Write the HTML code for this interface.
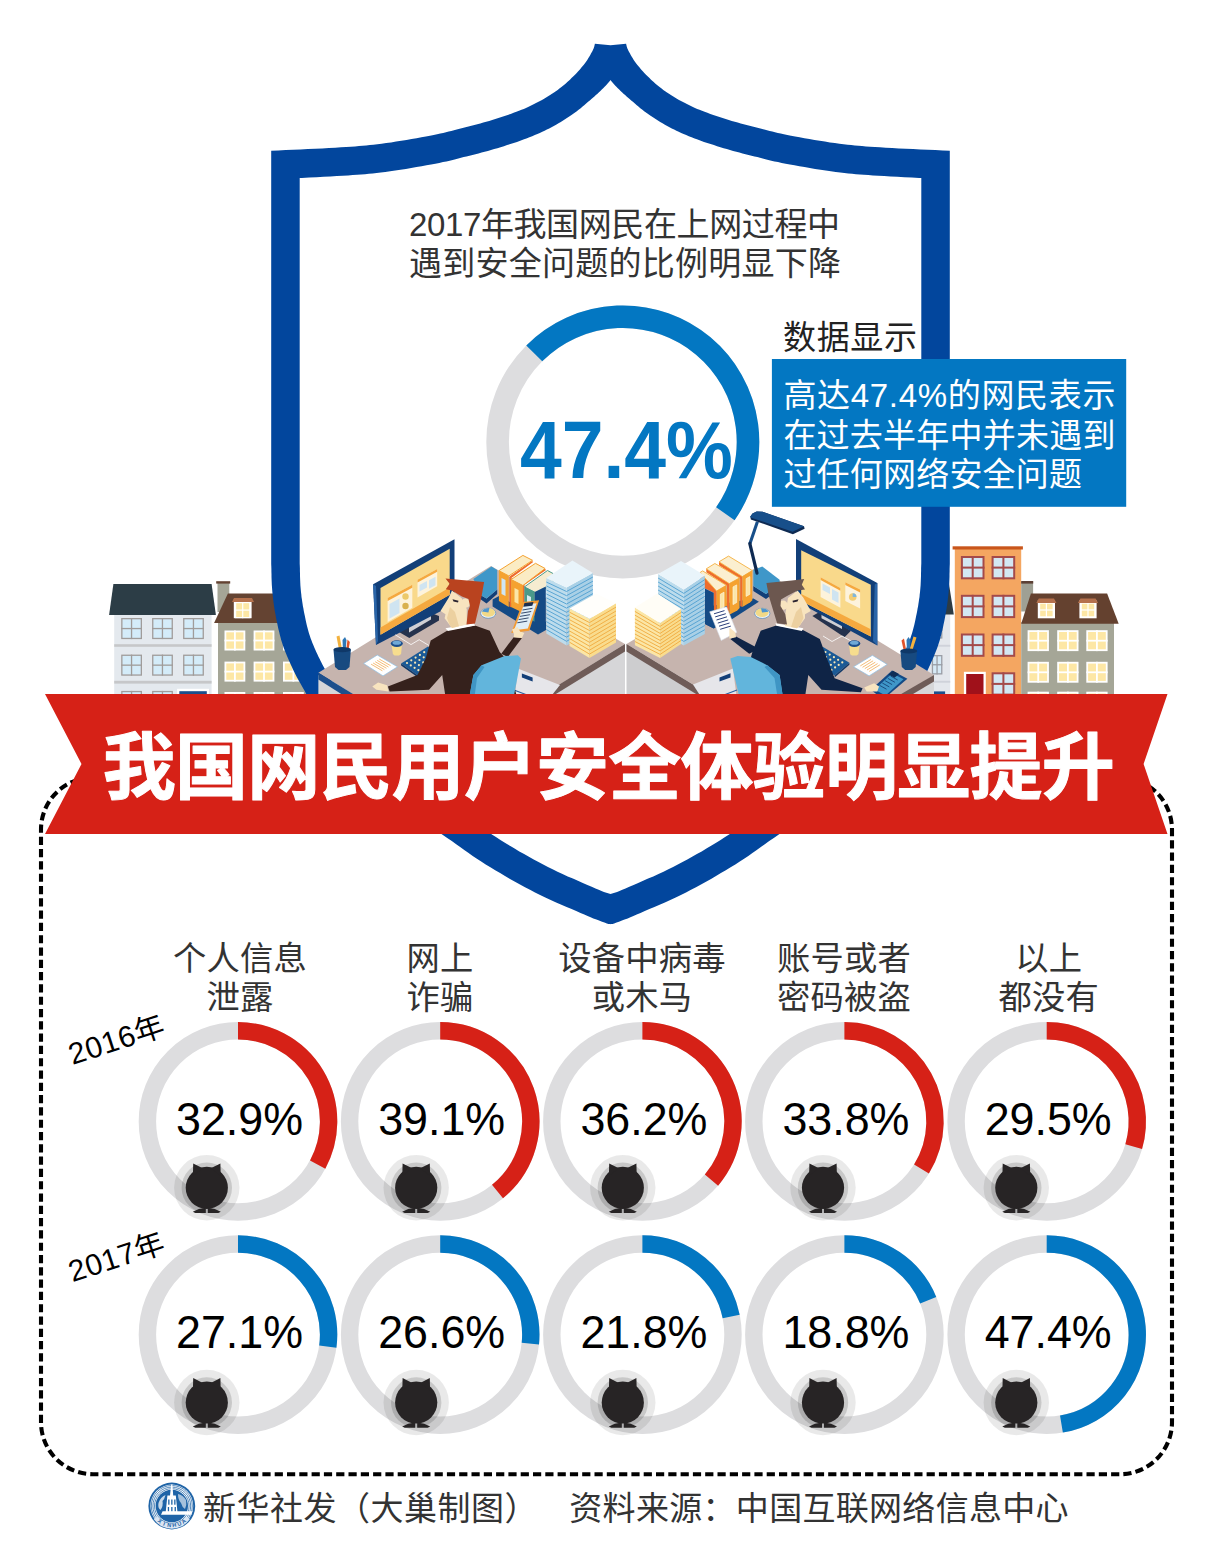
<!DOCTYPE html><html><head><meta charset="utf-8"><title>infographic</title><style>html,body{margin:0;padding:0;background:#fff;font-family:"Liberation Sans",sans-serif}body{width:1217px;height:1541px;overflow:hidden;position:relative}svg{display:block}svg text{font-family:"Liberation Sans","Noto Sans CJK SC",sans-serif}.t{position:absolute;left:0;top:0;width:1217px;height:1541px;overflow:hidden;color:transparent;font-size:12px;line-height:14px;pointer-events:none;user-select:none}</style></head><body><svg width="1217" height="1541" viewBox="0 0 1217 1541"><g id="bld"><rect x="114.2" y="612.0" width="97.4" height="90.0" fill="#e4e9ee"/><polygon points="109.1,615.1 113.4,584.1 211.6,584.1 215.9,615.1" fill="#2c3d46"/><rect x="114.2" y="644.2" width="97.4" height="2.6" fill="#c6c7c9"/><rect x="114.2" y="680.8" width="97.4" height="2.8" fill="#c6c7c9"/><rect x="121.2" y="618.0" width="20.8" height="21.1" fill="#a09c9a"/><rect x="122.5" y="619.3" width="18.2" height="18.5" fill="#d4ecf9"/><rect x="130.9" y="618.0" width="1.3" height="21.1" fill="#a09c9a"/><rect x="121.2" y="627.9" width="20.8" height="1.3" fill="#a09c9a"/><rect x="152.1" y="618.0" width="20.8" height="21.1" fill="#a09c9a"/><rect x="153.4" y="619.3" width="18.2" height="18.5" fill="#d4ecf9"/><rect x="161.8" y="618.0" width="1.3" height="21.1" fill="#a09c9a"/><rect x="152.1" y="627.9" width="20.8" height="1.3" fill="#a09c9a"/><rect x="183.1" y="618.0" width="20.8" height="21.1" fill="#a09c9a"/><rect x="184.4" y="619.3" width="18.2" height="18.5" fill="#d4ecf9"/><rect x="192.8" y="618.0" width="1.3" height="21.1" fill="#a09c9a"/><rect x="183.1" y="627.9" width="20.8" height="1.3" fill="#a09c9a"/><rect x="121.2" y="654.6" width="20.8" height="21.1" fill="#a09c9a"/><rect x="122.5" y="655.9" width="18.2" height="18.5" fill="#d4ecf9"/><rect x="130.9" y="654.6" width="1.3" height="21.1" fill="#a09c9a"/><rect x="121.2" y="664.5" width="20.8" height="1.3" fill="#a09c9a"/><rect x="152.1" y="654.6" width="20.8" height="21.1" fill="#a09c9a"/><rect x="153.4" y="655.9" width="18.2" height="18.5" fill="#d4ecf9"/><rect x="161.8" y="654.6" width="1.3" height="21.1" fill="#a09c9a"/><rect x="152.1" y="664.5" width="20.8" height="1.3" fill="#a09c9a"/><rect x="183.1" y="654.6" width="20.8" height="21.1" fill="#a09c9a"/><rect x="184.4" y="655.9" width="18.2" height="18.5" fill="#d4ecf9"/><rect x="192.8" y="654.6" width="1.3" height="21.1" fill="#a09c9a"/><rect x="183.1" y="664.5" width="20.8" height="1.3" fill="#a09c9a"/><rect x="121.2" y="690.9" width="20.8" height="21.1" fill="#a09c9a"/><rect x="122.5" y="692.2" width="18.2" height="18.5" fill="#d4ecf9"/><rect x="130.9" y="690.9" width="1.3" height="21.1" fill="#a09c9a"/><rect x="121.2" y="700.8" width="20.8" height="1.3" fill="#a09c9a"/><rect x="152.1" y="690.9" width="20.8" height="21.1" fill="#a09c9a"/><rect x="153.4" y="692.2" width="18.2" height="18.5" fill="#d4ecf9"/><rect x="161.8" y="690.9" width="1.3" height="21.1" fill="#a09c9a"/><rect x="152.1" y="700.8" width="20.8" height="1.3" fill="#a09c9a"/><rect x="183.1" y="690.9" width="20.8" height="21.1" fill="#a09c9a"/><rect x="184.4" y="692.2" width="18.2" height="18.5" fill="#d4ecf9"/><rect x="192.8" y="690.9" width="1.3" height="21.1" fill="#a09c9a"/><rect x="183.1" y="700.8" width="20.8" height="1.3" fill="#a09c9a"/><rect x="177.1" y="688.8" width="31.9" height="10.0" fill="#fff"/><rect x="179.3" y="691.2" width="27.5" height="8.0" fill="#1b4f8c"/><rect x="217.5" y="582.0" width="11.8" height="30.0" fill="#a5a697"/><rect x="216.2" y="581.2" width="14.0" height="2.4" fill="#644332"/><rect x="218.0" y="622.0" width="90.0" height="80.0" fill="#a5a697"/><polygon points="214.1,623.1 227.9,593.6 300.0,593.6 300.0,623.1" fill="#644332"/><rect x="233.8" y="599.5" width="17.8" height="18.7" fill="#fff"/><rect x="235.0" y="602.0" width="15.4" height="16.2" fill="#fff"/><rect x="236.2" y="603.2" width="13.0" height="13.8" fill="#fde7a5"/><rect x="242.1" y="602.0" width="1.2" height="16.2" fill="#fff"/><rect x="235.0" y="609.5" width="15.4" height="1.2" fill="#fff"/><polygon points="232.0,602.0 234.0,598.0 252.0,598.0 254.0,602.0" fill="#b5714d"/><rect x="224.5" y="630.5" width="20.8" height="20.0" fill="#fff"/><rect x="226.3" y="632.3" width="17.2" height="16.4" fill="#fde7a5"/><rect x="234.0" y="630.5" width="1.8" height="20.0" fill="#fff"/><rect x="224.5" y="639.6" width="20.8" height="1.8" fill="#fff"/><rect x="253.6" y="630.5" width="20.8" height="20.0" fill="#fff"/><rect x="255.4" y="632.3" width="17.2" height="16.4" fill="#fde7a5"/><rect x="263.1" y="630.5" width="1.8" height="20.0" fill="#fff"/><rect x="253.6" y="639.6" width="20.8" height="1.8" fill="#fff"/><rect x="283.0" y="630.5" width="20.8" height="20.0" fill="#fff"/><rect x="284.8" y="632.3" width="17.2" height="16.4" fill="#fde7a5"/><rect x="292.5" y="630.5" width="1.8" height="20.0" fill="#fff"/><rect x="283.0" y="639.6" width="20.8" height="1.8" fill="#fff"/><rect x="224.5" y="661.6" width="20.8" height="20.0" fill="#fff"/><rect x="226.3" y="663.4" width="17.2" height="16.4" fill="#fde7a5"/><rect x="234.0" y="661.6" width="1.8" height="20.0" fill="#fff"/><rect x="224.5" y="670.7" width="20.8" height="1.8" fill="#fff"/><rect x="253.6" y="661.6" width="20.8" height="20.0" fill="#fff"/><rect x="255.4" y="663.4" width="17.2" height="16.4" fill="#fde7a5"/><rect x="263.1" y="661.6" width="1.8" height="20.0" fill="#fff"/><rect x="253.6" y="670.7" width="20.8" height="1.8" fill="#fff"/><rect x="283.0" y="661.6" width="20.8" height="20.0" fill="#fff"/><rect x="284.8" y="663.4" width="17.2" height="16.4" fill="#fde7a5"/><rect x="292.5" y="661.6" width="1.8" height="20.0" fill="#fff"/><rect x="283.0" y="670.7" width="20.8" height="1.8" fill="#fff"/><rect x="224.5" y="692.0" width="20.8" height="20.0" fill="#fff"/><rect x="226.3" y="693.8" width="17.2" height="16.4" fill="#fde7a5"/><rect x="234.0" y="692.0" width="1.8" height="20.0" fill="#fff"/><rect x="224.5" y="701.1" width="20.8" height="1.8" fill="#fff"/><rect x="253.6" y="692.0" width="20.8" height="20.0" fill="#fff"/><rect x="255.4" y="693.8" width="17.2" height="16.4" fill="#fde7a5"/><rect x="263.1" y="692.0" width="1.8" height="20.0" fill="#fff"/><rect x="253.6" y="701.1" width="20.8" height="1.8" fill="#fff"/><rect x="283.0" y="692.0" width="20.8" height="20.0" fill="#fff"/><rect x="284.8" y="693.8" width="17.2" height="16.4" fill="#fde7a5"/><rect x="292.5" y="692.0" width="1.8" height="20.0" fill="#fff"/><rect x="283.0" y="701.1" width="20.8" height="1.8" fill="#fff"/><rect x="920.0" y="612.0" width="30.2" height="90.0" fill="#e4e7ec"/><polygon points="920.0,614.5 920.0,584.3 949.0,584.3 953.8,614.5" fill="#2d3b43"/><rect x="920.0" y="644.8" width="30.2" height="1.9" fill="#cfd2da"/><rect x="920.0" y="680.8" width="30.2" height="1.9" fill="#cfd2da"/><rect x="931.8" y="655.0" width="10.6" height="19.5" fill="#9a9ea6"/><rect x="933.1" y="656.3" width="8.0" height="16.9" fill="#d6e9f5"/><rect x="936.4" y="655.0" width="1.3" height="19.5" fill="#9a9ea6"/><rect x="931.8" y="664.1" width="10.6" height="1.3" fill="#9a9ea6"/><rect x="931.8" y="622.0" width="10.6" height="16.6" fill="#9a9ea6"/><rect x="933.1" y="623.3" width="8.0" height="14.0" fill="#d6e9f5"/><rect x="936.4" y="622.0" width="1.3" height="16.6" fill="#9a9ea6"/><rect x="931.8" y="629.6" width="10.6" height="1.3" fill="#9a9ea6"/><rect x="930.9" y="691.4" width="14.2" height="5.0" fill="#1b4f8c"/><rect x="954.8" y="548.0" width="66.4" height="150.0" fill="#f4a661"/><rect x="952.6" y="546.3" width="70.3" height="3.2" fill="#c9561c"/><rect x="960.9" y="556.0" width="23.6" height="23.3" fill="#a44a4a"/><rect x="962.9" y="558.0" width="19.6" height="19.3" fill="#d3e7f3"/><rect x="971.7" y="556.0" width="2.0" height="23.3" fill="#a44a4a"/><rect x="960.9" y="566.6" width="23.6" height="2.0" fill="#a44a4a"/><rect x="991.6" y="556.0" width="23.6" height="23.3" fill="#a44a4a"/><rect x="993.6" y="558.0" width="19.6" height="19.3" fill="#d3e7f3"/><rect x="1002.4" y="556.0" width="2.0" height="23.3" fill="#a44a4a"/><rect x="991.6" y="566.6" width="23.6" height="2.0" fill="#a44a4a"/><rect x="960.9" y="594.8" width="23.6" height="23.3" fill="#a44a4a"/><rect x="962.9" y="596.8" width="19.6" height="19.3" fill="#d3e7f3"/><rect x="971.7" y="594.8" width="2.0" height="23.3" fill="#a44a4a"/><rect x="960.9" y="605.4" width="23.6" height="2.0" fill="#a44a4a"/><rect x="991.6" y="594.8" width="23.6" height="23.3" fill="#a44a4a"/><rect x="993.6" y="596.8" width="19.6" height="19.3" fill="#d3e7f3"/><rect x="1002.4" y="594.8" width="2.0" height="23.3" fill="#a44a4a"/><rect x="991.6" y="605.4" width="23.6" height="2.0" fill="#a44a4a"/><rect x="960.9" y="633.5" width="23.6" height="23.3" fill="#a44a4a"/><rect x="962.9" y="635.5" width="19.6" height="19.3" fill="#d3e7f3"/><rect x="971.7" y="633.5" width="2.0" height="23.3" fill="#a44a4a"/><rect x="960.9" y="644.1" width="23.6" height="2.0" fill="#a44a4a"/><rect x="991.6" y="633.5" width="23.6" height="23.3" fill="#a44a4a"/><rect x="993.6" y="635.5" width="19.6" height="19.3" fill="#d3e7f3"/><rect x="1002.4" y="633.5" width="2.0" height="23.3" fill="#a44a4a"/><rect x="991.6" y="644.1" width="23.6" height="2.0" fill="#a44a4a"/><rect x="963.9" y="671.8" width="21.9" height="25.0" fill="#fff"/><rect x="966.2" y="674.0" width="17.3" height="23.0" fill="#a0111a"/><rect x="991.6" y="672.3" width="23.6" height="23.3" fill="#a44a4a"/><rect x="993.6" y="674.3" width="19.6" height="19.3" fill="#d3e7f3"/><rect x="1002.4" y="672.3" width="2.0" height="23.3" fill="#a44a4a"/><rect x="991.6" y="682.9" width="23.6" height="2.0" fill="#a44a4a"/><rect x="1021.2" y="581.5" width="11.9" height="30.0" fill="#9fa094"/><rect x="1021.2" y="581.0" width="12.0" height="2.6" fill="#5c4034"/><rect x="1021.2" y="622.0" width="92.8" height="78.0" fill="#a5a697"/><polygon points="1021.2,623.8 1030.9,593.4 1107.1,593.4 1118.7,623.8" fill="#64412f"/><rect x="1037.8" y="600.3" width="17.2" height="18.0" fill="#fff"/><rect x="1039.0" y="602.5" width="14.8" height="15.0" fill="#fff"/><rect x="1040.2" y="603.7" width="12.4" height="12.6" fill="#fde7a5"/><rect x="1045.8" y="602.5" width="1.2" height="15.0" fill="#fff"/><rect x="1039.0" y="609.4" width="14.8" height="1.2" fill="#fff"/><polygon points="1036.3,603.0 1038.8,598.5 1054.0,598.5 1056.5,603.0" fill="#b5714d"/><rect x="1079.4" y="600.3" width="17.2" height="18.0" fill="#fff"/><rect x="1080.6" y="602.5" width="14.8" height="15.0" fill="#fff"/><rect x="1081.8" y="603.7" width="12.4" height="12.6" fill="#fde7a5"/><rect x="1087.4" y="602.5" width="1.2" height="15.0" fill="#fff"/><rect x="1080.6" y="609.4" width="14.8" height="1.2" fill="#fff"/><polygon points="1077.9,603.0 1080.4,598.5 1095.6,598.5 1098.1,603.0" fill="#b5714d"/><rect x="1027.6" y="630.2" width="21.3" height="20.9" fill="#fff"/><rect x="1029.4" y="632.0" width="17.7" height="17.3" fill="#fde7a5"/><rect x="1037.3" y="630.2" width="1.8" height="20.9" fill="#fff"/><rect x="1027.6" y="639.8" width="21.3" height="1.8" fill="#fff"/><rect x="1057.2" y="630.2" width="21.3" height="20.9" fill="#fff"/><rect x="1059.0" y="632.0" width="17.7" height="17.3" fill="#fde7a5"/><rect x="1067.0" y="630.2" width="1.8" height="20.9" fill="#fff"/><rect x="1057.2" y="639.8" width="21.3" height="1.8" fill="#fff"/><rect x="1086.3" y="630.2" width="21.3" height="20.9" fill="#fff"/><rect x="1088.1" y="632.0" width="17.7" height="17.3" fill="#fde7a5"/><rect x="1096.0" y="630.2" width="1.8" height="20.9" fill="#fff"/><rect x="1086.3" y="639.8" width="21.3" height="1.8" fill="#fff"/><rect x="1027.6" y="661.8" width="21.3" height="20.9" fill="#fff"/><rect x="1029.4" y="663.6" width="17.7" height="17.3" fill="#fde7a5"/><rect x="1037.3" y="661.8" width="1.8" height="20.9" fill="#fff"/><rect x="1027.6" y="671.4" width="21.3" height="1.8" fill="#fff"/><rect x="1057.2" y="661.8" width="21.3" height="20.9" fill="#fff"/><rect x="1059.0" y="663.6" width="17.7" height="17.3" fill="#fde7a5"/><rect x="1067.0" y="661.8" width="1.8" height="20.9" fill="#fff"/><rect x="1057.2" y="671.4" width="21.3" height="1.8" fill="#fff"/><rect x="1086.3" y="661.8" width="21.3" height="20.9" fill="#fff"/><rect x="1088.1" y="663.6" width="17.7" height="17.3" fill="#fde7a5"/><rect x="1096.0" y="661.8" width="1.8" height="20.9" fill="#fff"/><rect x="1086.3" y="671.4" width="21.3" height="1.8" fill="#fff"/><rect x="1027.6" y="691.7" width="21.3" height="20.9" fill="#fff"/><rect x="1029.4" y="693.5" width="17.7" height="17.3" fill="#fde7a5"/><rect x="1037.3" y="691.7" width="1.8" height="20.9" fill="#fff"/><rect x="1027.6" y="701.3" width="21.3" height="1.8" fill="#fff"/><rect x="1057.2" y="691.7" width="21.3" height="20.9" fill="#fff"/><rect x="1059.0" y="693.5" width="17.7" height="17.3" fill="#fde7a5"/><rect x="1067.0" y="691.7" width="1.8" height="20.9" fill="#fff"/><rect x="1057.2" y="701.3" width="21.3" height="1.8" fill="#fff"/><rect x="1086.3" y="691.7" width="21.3" height="20.9" fill="#fff"/><rect x="1088.1" y="693.5" width="17.7" height="17.3" fill="#fde7a5"/><rect x="1096.0" y="691.7" width="1.8" height="20.9" fill="#fff"/><rect x="1086.3" y="701.3" width="21.3" height="1.8" fill="#fff"/></g><path d="M610.5 45.3L594.9 43.7L594.8 44.3L594.6 45.0L594.5 45.5L594.4 46.1L594.2 46.7L594.0 47.3L593.8 48.0L593.5 48.7L593.1 49.5L592.7 50.4L592.2 51.4L591.6 52.5L591.0 53.6L590.4 54.8L589.7 56.1L588.9 57.3L588.1 58.6L587.3 59.9L586.4 61.2L585.5 62.5L584.6 63.8L583.6 65.0L582.5 66.3L581.4 67.6L580.3 68.9L579.2 70.2L578.0 71.6L576.7 72.9L575.5 74.2L574.2 75.5L572.9 76.8L571.5 78.1L570.2 79.4L568.8 80.8L567.3 82.1L565.8 83.4L564.3 84.7L562.7 86.0L561.1 87.3L559.4 88.6L557.7 89.9L555.8 91.2L554.0 92.5L552.0 93.7L550.1 95.0L548.1 96.3L546.1 97.5L544.1 98.7L542.0 99.9L540.0 101.0L538.0 102.1L536.0 103.1L534.1 104.1L532.1 105.1L530.1 106.0L528.1 107.0L526.0 107.9L523.8 108.9L521.5 109.8L519.0 110.8L516.4 111.8L513.6 112.8L510.7 113.9L507.7 114.9L504.6 116.0L501.5 117.0L498.4 118.0L495.3 119.0L492.2 120.0L489.2 120.9L486.2 121.8L483.3 122.6L480.3 123.5L477.3 124.3L474.4 125.1L471.4 125.8L468.5 126.6L465.5 127.3L462.6 128.1L459.6 128.8L456.7 129.5L454.0 130.2L451.3 130.9L448.7 131.6L446.0 132.2L443.2 132.9L440.3 133.6L437.1 134.3L433.7 135.0L430.0 135.7L425.9 136.5L421.4 137.3L416.6 138.2L411.6 139.0L406.5 139.9L401.3 140.8L396.1 141.6L391.1 142.4L386.2 143.1L381.6 143.7L377.4 144.2L373.4 144.7L369.8 145.1L366.2 145.5L362.6 145.8L359.0 146.1L355.1 146.4L350.9 146.7L346.2 147.0L341.0 147.3L335.2 147.7L328.9 148.0L322.2 148.4L315.2 148.7L307.9 149.1L300.6 149.4L293.1 149.7L285.7 150.1L278.3 150.4L271.2 150.8L271.2 161.7L271.2 174.3L271.2 188.3L271.2 203.4L271.2 219.2L271.2 235.5L271.2 252.1L271.2 268.5L271.2 284.6L271.2 300.0L271.2 315.2L271.2 330.9L271.2 346.8L271.2 362.8L271.2 378.7L271.2 394.3L271.2 409.4L271.2 423.8L271.2 437.4L271.2 450.0L271.2 461.7L271.2 472.9L271.2 483.4L271.2 493.4L271.2 502.7L271.2 511.5L271.2 519.6L271.2 527.0L271.2 533.8L271.2 540.0L271.2 545.2L271.2 549.3L271.2 552.6L271.2 555.1L271.2 557.1L271.2 558.8L271.2 560.4L271.2 562.1L271.2 564.0L271.3 566.3L271.4 568.9L271.4 571.6L271.5 574.2L271.5 576.8L271.6 579.4L271.7 582.1L271.8 584.7L272.0 587.3L272.2 590.0L272.4 592.6L272.7 595.2L273.0 597.9L273.3 600.5L273.6 603.1L274.0 605.8L274.4 608.4L274.8 611.0L275.3 613.6L275.8 616.3L276.3 618.9L276.8 621.5L277.4 624.2L277.9 626.8L278.5 629.4L279.2 632.0L279.8 634.7L280.5 637.3L281.2 639.9L282.0 642.6L282.9 645.2L283.8 647.9L284.8 650.5L285.9 653.2L287.0 655.9L288.1 658.6L289.3 661.3L290.5 663.9L291.7 666.5L292.8 669.1L294.0 671.5L295.1 673.7L296.1 675.7L297.0 677.4L297.9 679.1L298.8 680.8L299.9 682.6L301.0 684.6L302.4 687.0L304.0 689.8L305.9 693.2L308.0 697.2L310.3 701.7L312.8 706.6L315.4 711.8L318.2 717.3L321.2 723.0L324.3 728.6L327.7 734.3L331.2 739.8L335.0 745.0L339.0 750.1L343.2 755.3L347.7 760.5L352.3 765.6L357.1 770.8L362.1 775.8L367.2 780.8L372.4 785.7L377.7 790.4L383.0 795.0L388.5 799.4L394.4 803.7L400.4 807.9L406.6 812.0L412.9 816.0L419.1 819.9L425.2 823.7L431.2 827.4L436.9 831.0L442.2 834.5L447.2 837.9L451.8 841.1L456.2 844.2L460.5 847.2L464.6 850.2L468.6 853.0L472.7 855.9L476.9 858.7L481.2 861.5L485.7 864.4L490.4 867.3L495.2 870.2L500.1 873.1L505.0 876.0L510.0 878.9L515.0 881.7L520.0 884.5L525.0 887.2L530.0 889.8L535.0 892.4L540.1 894.9L545.3 897.4L550.7 899.9L556.1 902.4L561.4 904.7L566.6 907.0L571.6 909.1L576.2 911.1L580.5 913.0L584.3 914.6L587.6 916.0L590.6 917.3L593.3 918.4L595.7 919.3L597.8 920.1L599.7 920.8L601.4 921.4L602.9 922.0L604.4 922.5L605.7 923.0L606.8 923.4L607.7 923.7L608.3 923.9L608.8 924.0L609.1 924.1L609.3 924.1L609.5 924.1L609.8 924.1L610.1 924.1L610.5 924.2L610.5 924.2L610.9 924.1L611.2 924.1L611.5 924.1L611.7 924.1L611.9 924.1L612.2 924.0L612.7 923.9L613.3 923.7L614.2 923.4L615.3 923.0L616.6 922.5L618.1 922.0L619.6 921.4L621.3 920.8L623.2 920.1L625.3 919.3L627.7 918.4L630.4 917.3L633.4 916.0L636.7 914.6L640.5 913.0L644.8 911.1L649.4 909.1L654.4 907.0L659.6 904.7L664.9 902.4L670.3 899.9L675.7 897.4L680.9 894.9L686.0 892.4L691.0 889.8L696.0 887.2L701.0 884.5L706.0 881.7L711.0 878.9L716.0 876.0L720.9 873.1L725.8 870.2L730.6 867.3L735.3 864.4L739.8 861.5L744.1 858.7L748.3 855.9L752.4 853.0L756.4 850.2L760.5 847.2L764.8 844.2L769.2 841.1L773.8 837.9L778.8 834.5L784.1 831.0L789.8 827.4L795.8 823.7L801.9 819.9L808.1 816.0L814.4 812.0L820.6 807.9L826.6 803.7L832.5 799.4L838.0 795.0L843.3 790.4L848.6 785.7L853.8 780.8L858.9 775.8L863.9 770.8L868.7 765.6L873.3 760.5L877.8 755.3L882.0 750.1L886.0 745.0L889.8 739.8L893.3 734.3L896.7 728.6L899.8 723.0L902.8 717.3L905.6 711.8L908.2 706.6L910.7 701.7L913.0 697.2L915.1 693.2L917.0 689.8L918.6 687.0L920.0 684.6L921.1 682.6L922.2 680.8L923.1 679.1L924.0 677.4L924.9 675.7L925.9 673.7L927.0 671.5L928.2 669.1L929.3 666.5L930.5 663.9L931.7 661.3L932.9 658.6L934.0 655.9L935.1 653.2L936.2 650.5L937.2 647.9L938.1 645.2L939.0 642.6L939.8 639.9L940.5 637.3L941.2 634.7L941.8 632.0L942.5 629.4L943.1 626.8L943.6 624.2L944.2 621.5L944.7 618.9L945.2 616.3L945.7 613.6L946.2 611.0L946.6 608.4L947.0 605.8L947.4 603.1L947.7 600.5L948.0 597.9L948.3 595.2L948.6 592.6L948.8 590.0L949.0 587.3L949.2 584.7L949.3 582.1L949.4 579.4L949.5 576.8L949.5 574.2L949.6 571.6L949.6 568.9L949.7 566.3L949.8 564.0L949.8 562.1L949.8 560.4L949.8 558.8L949.8 557.1L949.8 555.1L949.8 552.6L949.8 549.3L949.8 545.2L949.8 540.0L949.8 533.8L949.8 527.0L949.8 519.6L949.8 511.5L949.8 502.7L949.8 493.4L949.8 483.4L949.8 472.9L949.8 461.7L949.8 450.0L949.8 437.4L949.8 423.8L949.8 409.4L949.8 394.3L949.8 378.7L949.8 362.8L949.8 346.8L949.8 330.9L949.8 315.2L949.8 300.0L949.8 284.6L949.8 268.5L949.8 252.1L949.8 235.5L949.8 219.2L949.8 203.4L949.8 188.3L949.8 174.3L949.8 161.7L949.8 150.8L942.7 150.4L935.3 150.1L927.9 149.7L920.4 149.4L913.0 149.1L905.8 148.7L898.8 148.4L892.1 148.0L885.8 147.7L880.0 147.3L874.8 147.0L870.1 146.7L865.9 146.4L862.0 146.1L858.4 145.8L854.8 145.5L851.2 145.1L847.6 144.7L843.6 144.2L839.4 143.7L834.8 143.1L829.9 142.4L824.9 141.6L819.7 140.8L814.5 139.9L809.4 139.0L804.4 138.2L799.6 137.3L795.1 136.5L791.0 135.7L787.3 135.0L783.9 134.3L780.7 133.6L777.8 132.9L775.0 132.2L772.3 131.6L769.7 130.9L767.0 130.2L764.3 129.5L761.4 128.8L758.4 128.1L755.5 127.3L752.5 126.6L749.6 125.8L746.6 125.1L743.7 124.3L740.7 123.5L737.7 122.6L734.8 121.8L731.8 120.9L728.8 120.0L725.7 119.0L722.6 118.0L719.5 117.0L716.4 116.0L713.3 114.9L710.3 113.9L707.4 112.8L704.6 111.8L702.0 110.8L699.5 109.8L697.2 108.9L695.0 107.9L692.9 107.0L690.9 106.0L688.9 105.1L686.9 104.1L685.0 103.1L683.0 102.1L681.0 101.0L679.0 99.9L676.9 98.7L674.9 97.5L672.9 96.3L670.9 95.0L669.0 93.7L667.0 92.5L665.2 91.2L663.3 89.9L661.6 88.6L659.9 87.3L658.3 86.0L656.7 84.7L655.2 83.4L653.7 82.1L652.2 80.8L650.8 79.4L649.5 78.1L648.1 76.8L646.8 75.5L645.5 74.2L644.3 72.9L643.0 71.6L641.8 70.2L640.7 68.9L639.6 67.6L638.5 66.3L637.4 65.0L636.4 63.8L635.5 62.5L634.6 61.2L633.7 59.9L632.9 58.6L632.1 57.3L631.3 56.1L630.6 54.8L630.0 53.6L629.4 52.5L628.8 51.4L628.3 50.4L627.9 49.5L627.5 48.7L627.2 48.0L627.0 47.3L626.8 46.7L626.6 46.1L626.5 45.5L626.4 45.0L626.2 44.3L626.1 43.7Z" fill="#02469d"/><path d="M610.5 80.1L609.8 81.0L608.5 82.5L607.2 84.0L605.9 85.4L604.6 86.8L603.2 88.2L601.8 89.6L600.4 90.9L599.0 92.3L597.5 93.7L595.9 95.1L594.4 96.4L592.9 97.7L591.4 99.0L589.8 100.4L588.1 101.8L586.4 103.3L584.5 104.9L582.6 106.5L580.7 108.2L578.6 109.8L576.5 111.4L574.3 113.0L572.2 114.5L570.0 116.0L567.7 117.5L565.4 119.0L563.1 120.5L560.8 121.9L558.5 123.3L556.1 124.7L553.8 126.0L551.5 127.2L549.2 128.4L546.9 129.6L544.6 130.7L542.3 131.8L539.8 133.0L537.4 134.1L534.8 135.1L532.2 136.2L529.4 137.3L526.4 138.5L523.4 139.6L520.2 140.7L517.0 141.9L513.7 143.0L510.4 144.1L507.1 145.1L503.9 146.2L500.6 147.2L497.4 148.2L494.2 149.1L491.0 150.1L487.9 150.9L484.7 151.8L481.6 152.6L478.5 153.4L475.5 154.2L472.5 155.0L469.5 155.7L466.5 156.4L463.7 157.1L461.0 157.8L458.3 158.5L455.6 159.2L452.7 159.9L449.7 160.7L446.5 161.4L443.0 162.1L439.3 162.9L435.4 163.7L431.1 164.5L426.5 165.3L421.6 166.2L416.5 167.1L411.2 168.0L405.9 168.9L400.5 169.7L395.3 170.6L390.2 171.3L385.3 172.0L380.8 172.5L376.7 173.0L372.7 173.5L368.9 173.8L365.1 174.2L361.2 174.5L357.1 174.8L352.8 175.1L348.1 175.4L342.8 175.7L336.9 176.1L330.5 176.5L323.7 176.8L316.6 177.2L309.3 177.5L301.9 177.9L299.7 178.0L299.7 188.3L299.7 203.4L299.7 219.2L299.7 235.5L299.7 252.1L299.7 268.5L299.7 284.6L299.7 300.0L299.7 315.2L299.7 330.9L299.7 346.8L299.7 362.8L299.7 378.7L299.7 394.3L299.7 409.4L299.7 423.8L299.7 437.4L299.7 450.0L299.7 461.7L299.7 472.9L299.7 483.4L299.7 493.4L299.7 502.7L299.7 511.5L299.7 519.6L299.7 527.0L299.7 533.8L299.7 540.0L299.7 545.2L299.7 549.4L299.7 552.6L299.7 555.2L299.7 557.1L299.7 558.7L299.7 560.1L299.7 561.6L299.7 563.4L299.8 565.7L299.9 568.3L299.9 571.0L300.0 573.5L300.0 576.0L300.1 578.5L300.2 580.9L300.3 583.2L300.4 585.5L300.6 587.7L300.8 589.9L301.0 592.2L301.3 594.6L301.5 596.9L301.9 599.2L302.2 601.6L302.6 603.9L302.9 606.2L303.4 608.6L303.8 611.0L304.3 613.4L304.8 615.8L305.3 618.3L305.8 620.7L306.3 623.0L306.8 625.3L307.4 627.6L308.0 629.8L308.6 631.9L309.2 634.0L309.9 636.1L310.6 638.2L311.5 640.4L312.3 642.7L313.3 645.0L314.3 647.4L315.3 649.8L316.4 652.2L317.5 654.5L318.6 656.9L319.7 659.1L320.6 661.1L321.4 662.6L322.1 664.0L322.8 665.3L323.6 666.7L324.6 668.4L325.8 670.4L327.2 672.9L328.8 675.8L330.9 679.5L333.3 684.0L335.8 688.8L338.3 693.9L340.8 699.0L343.5 704.2L346.2 709.4L349.0 714.4L351.9 719.2L354.8 723.7L357.8 727.9L361.3 732.3L365.0 737.0L369.1 741.7L373.3 746.4L377.7 751.0L382.2 755.7L386.9 760.2L391.6 764.7L396.4 769.0L401.2 773.0L405.9 776.8L411.0 780.5L416.4 784.3L422.1 788.1L428.1 791.9L434.2 795.7L440.3 799.5L446.3 803.2L452.3 807.0L458.1 810.8L463.3 814.4L468.2 817.8L472.7 821.0L477.0 824.0L481.0 826.9L485.0 829.7L488.8 832.4L492.7 835.0L496.7 837.6L500.8 840.3L505.3 843.0L509.9 845.8L514.6 848.6L519.3 851.4L524.1 854.1L528.9 856.8L533.7 859.5L538.5 862.1L543.2 864.6L547.9 867.0L552.6 869.3L557.5 871.7L562.5 874.0L567.7 876.4L572.9 878.6L577.9 880.8L582.8 883.0L587.4 884.9L591.7 886.8L595.5 888.4L598.7 889.8L601.5 890.9L603.9 891.9L610.5 894.0L610.5 894.0L617.1 891.9L619.5 890.9L622.3 889.8L625.5 888.4L629.3 886.8L633.6 884.9L638.2 883.0L643.1 880.8L648.1 878.6L653.3 876.4L658.5 874.0L663.5 871.7L668.4 869.3L673.1 867.0L677.8 864.6L682.5 862.1L687.3 859.5L692.1 856.8L696.9 854.1L701.7 851.4L706.4 848.6L711.1 845.8L715.7 843.0L720.2 840.3L724.3 837.6L728.3 835.0L732.2 832.4L736.0 829.7L740.0 826.9L744.0 824.0L748.3 821.0L752.8 817.8L757.7 814.4L762.9 810.8L768.7 807.0L774.7 803.2L780.7 799.5L786.8 795.7L792.9 791.9L798.9 788.1L804.6 784.3L810.0 780.5L815.1 776.8L819.8 773.0L824.6 769.0L829.4 764.7L834.1 760.2L838.8 755.7L843.3 751.0L847.7 746.4L851.9 741.7L856.0 737.0L859.7 732.3L863.2 727.9L866.2 723.7L869.1 719.2L872.0 714.4L874.8 709.4L877.5 704.2L880.2 699.0L882.7 693.9L885.2 688.8L887.7 684.0L890.1 679.5L892.2 675.8L893.8 672.9L895.2 670.4L896.4 668.4L897.4 666.7L898.2 665.3L898.9 664.0L899.6 662.6L900.4 661.1L901.3 659.1L902.4 656.9L903.5 654.5L904.6 652.2L905.7 649.8L906.7 647.4L907.7 645.0L908.7 642.7L909.5 640.4L910.4 638.2L911.1 636.1L911.8 634.0L912.4 631.9L913.0 629.8L913.6 627.6L914.2 625.3L914.7 623.0L915.2 620.7L915.7 618.3L916.2 615.8L916.7 613.4L917.2 611.0L917.6 608.6L918.1 606.2L918.4 603.9L918.8 601.6L919.1 599.2L919.5 596.9L919.7 594.6L920.0 592.2L920.2 589.9L920.4 587.7L920.6 585.5L920.7 583.2L920.8 580.9L920.9 578.5L921.0 576.0L921.0 573.5L921.1 571.0L921.1 568.3L921.2 565.7L921.3 563.4L921.3 561.6L921.3 560.1L921.3 558.7L921.3 557.1L921.3 555.2L921.3 552.6L921.3 549.4L921.3 545.2L921.3 540.0L921.3 533.8L921.3 527.0L921.3 519.6L921.3 511.5L921.3 502.7L921.3 493.4L921.3 483.4L921.3 472.9L921.3 461.7L921.3 450.0L921.3 437.4L921.3 423.8L921.3 409.4L921.3 394.3L921.3 378.7L921.3 362.8L921.3 346.8L921.3 330.9L921.3 315.2L921.3 300.0L921.3 284.6L921.3 268.5L921.3 252.1L921.3 235.5L921.3 219.2L921.3 203.4L921.3 188.3L921.3 178.0L919.1 177.9L911.7 177.5L904.4 177.2L897.3 176.8L890.5 176.5L884.1 176.1L878.2 175.7L872.9 175.4L868.2 175.1L863.9 174.8L859.8 174.5L855.9 174.2L852.1 173.8L848.3 173.5L844.3 173.0L840.2 172.5L835.7 172.0L830.8 171.3L825.7 170.6L820.5 169.7L815.1 168.9L809.8 168.0L804.5 167.1L799.4 166.2L794.5 165.3L789.9 164.5L785.6 163.7L781.7 162.9L778.0 162.1L774.5 161.4L771.3 160.7L768.3 159.9L765.4 159.2L762.7 158.5L760.0 157.8L757.3 157.1L754.5 156.4L751.5 155.7L748.5 155.0L745.5 154.2L742.5 153.4L739.4 152.6L736.3 151.8L733.1 150.9L730.0 150.1L726.8 149.1L723.6 148.2L720.4 147.2L717.1 146.2L713.9 145.1L710.6 144.1L707.3 143.0L704.0 141.9L700.8 140.7L697.6 139.6L694.6 138.5L691.6 137.3L688.8 136.2L686.2 135.1L683.6 134.1L681.2 133.0L678.7 131.8L676.4 130.7L674.1 129.6L671.8 128.4L669.5 127.2L667.2 126.0L664.9 124.7L662.5 123.3L660.2 121.9L657.9 120.5L655.6 119.0L653.3 117.5L651.0 116.0L648.8 114.5L646.7 113.0L644.5 111.4L642.4 109.8L640.3 108.2L638.4 106.5L636.5 104.9L634.6 103.3L632.9 101.8L631.2 100.4L629.6 99.0L628.1 97.7L626.6 96.4L625.1 95.1L623.5 93.7L622.0 92.3L620.6 90.9L619.2 89.6L617.8 88.2L616.4 86.8L615.1 85.4L613.8 84.0L612.5 82.5L611.2 81.0L610.5 80.1Z" fill="#fff"/><text x="409" y="235.6" font-size="33" fill="#333" textLength="431" lengthAdjust="spacing">2017年我国网民在上网过程中</text><text x="409" y="275.2" font-size="33" fill="#333" textLength="432" lengthAdjust="spacing">遇到安全问题的比例明显下降</text><circle cx="622.8" cy="441.9" r="125.2" fill="none" stroke="#dddddf" stroke-width="22.6"/><path d="M534.27 353.37 A125.20 125.20 0 0 1 725.36 513.71" fill="none" stroke="#0377c2" stroke-width="22.6"/><text x="519.9" y="478.4" font-size="82" font-weight="bold" fill="#0377c2" textLength="213" lengthAdjust="spacingAndGlyphs">47.4%</text><text x="783" y="349.2" font-size="33" fill="#222" textLength="134" lengthAdjust="spacing">数据显示</text><rect x="771.9" y="359.0" width="354.3" height="147.8" fill="#0377c2"/><text x="783.4" y="406.8" font-size="33" fill="#fff" textLength="332" lengthAdjust="spacing">高达47.4%的网民表示</text><text x="783.4" y="446.6" font-size="33" fill="#fff" textLength="332" lengthAdjust="spacing">在过去半年中并未遇到</text><text x="783.4" y="486.4" font-size="33" fill="#fff" textLength="298.6" lengthAdjust="spacing">过任何网络安全问题</text><g id="desk"><polygon points="625.0,644.0 625.0,702.0 538.0,702.0 560.0,684.0" fill="#d6d6d8"/><polygon points="318.4,675.0 318.4,702.0 365.0,702.0" fill="#d6d6d8"/><polygon points="318.4,672.8 491.0,566.0 625.0,644.0 541.0,696.0 356.0,696.0" fill="#c6b4ae"/><polygon points="625.0,644.0 625.0,651.5 551.0,697.0 539.0,697.0" fill="#6f5c58"/><polygon points="318.4,672.8 318.4,679.6 346.0,697.0 358.0,697.0" fill="#1d4f8c"/><polygon points="517.8,668.5 560.0,684.9 548.0,700.0 514.5,700.0" fill="#e6e6ea"/><polygon points="521.9,673.4 532.6,677.5 532.6,681.6 521.9,677.5" fill="#123f78"/><path d="M514 690 L548 703" stroke="#2a5fa0" stroke-width="1.2" fill="none"/><polygon points="476.0,596.0 480.8,595.3 486.5,598.6 497.2,589.6 497.2,594.0 486.5,603.5" fill="#123f78"/><polygon points="473.4,578.9 491.5,566.6 497.2,569.9 497.2,589.6 486.5,598.6 480.8,595.3" fill="#3f97c9"/><polygon points="492.6,599.5 499.0,596.0 546.0,622.0 546.0,630.0 538.0,634.5 492.6,606.5" fill="#144a85"/><polygon points="509.4,576.6 532.0,561.0 533.2,562.0 511.4,577.9 511.4,607.4 509.4,606.6" fill="#ee6d2d"/><polygon points="521.7,583.2 544.7,568.4 546.0,569.9 524.4,585.0 524.4,613.0 521.7,612.4" fill="#ee6d2d"/><polygon points="498.9,570.7 522.9,555.4 532.5,560.3 508.8,575.9" fill="#fbecc4" stroke="#f5a230" stroke-width="1"/><polygon points="498.9,570.7 508.8,575.9 508.8,606.9 498.9,601.0" fill="#f5a230"/><polygon points="501.5,578.0 505.5,580.0 505.5,596.0 501.5,594.0" fill="#cfe6f3"/><polygon points="511.1,579.5 535.5,563.3 545.1,568.5 522.9,585.5" fill="#fbecc4" stroke="#f5a230" stroke-width="1"/><polygon points="511.1,579.5 522.9,585.5 522.9,612.8 511.1,606.9" fill="#f5a230"/><polygon points="514.5,588.0 518.5,590.0 518.5,604.0 514.5,602.0" fill="#fbe6a8"/><polygon points="524.4,586.9 547.5,570.5 553.0,573.5 553.0,584.0 537.3,593.5 534.7,592.1" fill="#f6ecd0" stroke="#4a9a8a" stroke-width="1"/><polygon points="524.4,586.9 534.7,592.1 534.7,621.7 524.4,616.0" fill="#4a9a8a"/><polygon points="527.0,595.0 531.0,597.0 531.0,611.0 527.0,609.0" fill="#d6ecf2"/><polygon points="534.7,592.1 545.8,586.5 545.8,624.7 537.7,629.1 534.7,621.7" fill="#144a85"/><polygon points="546.3,578.0 566.5,587.4 566.5,645.4 546.3,633.5" fill="#bddcec"/><polygon points="566.5,587.4 592.9,572.9 592.9,630.9 566.5,645.4" fill="#a9d0e6"/><polygon points="546.3,578.0 566.5,587.4 592.9,572.9 572.4,560.6" fill="#e9f4fa"/><path d="M546.3 582.0 L566.5 591.5 L592.9 577.0" fill="none" stroke="#4f9fd1" stroke-width="0.9"/><path d="M546.3 585.9 L566.5 595.7 L592.9 581.2" fill="none" stroke="#4f9fd1" stroke-width="0.9"/><path d="M546.3 589.9 L566.5 599.8 L592.9 585.3" fill="none" stroke="#4f9fd1" stroke-width="0.9"/><path d="M546.3 593.9 L566.5 604.0 L592.9 589.5" fill="none" stroke="#4f9fd1" stroke-width="0.9"/><path d="M546.3 597.8 L566.5 608.1 L592.9 593.6" fill="none" stroke="#4f9fd1" stroke-width="0.9"/><path d="M546.3 601.8 L566.5 612.3 L592.9 597.8" fill="none" stroke="#4f9fd1" stroke-width="0.9"/><path d="M546.3 605.8 L566.5 616.4 L592.9 601.9" fill="none" stroke="#4f9fd1" stroke-width="0.9"/><path d="M546.3 609.7 L566.5 620.5 L592.9 606.0" fill="none" stroke="#4f9fd1" stroke-width="0.9"/><path d="M546.3 613.7 L566.5 624.7 L592.9 610.2" fill="none" stroke="#4f9fd1" stroke-width="0.9"/><path d="M546.3 617.6 L566.5 628.8 L592.9 614.3" fill="none" stroke="#4f9fd1" stroke-width="0.9"/><path d="M546.3 621.6 L566.5 633.0 L592.9 618.5" fill="none" stroke="#4f9fd1" stroke-width="0.9"/><path d="M546.3 625.6 L566.5 637.1 L592.9 622.6" fill="none" stroke="#4f9fd1" stroke-width="0.9"/><path d="M546.3 629.5 L566.5 641.3 L592.9 626.8" fill="none" stroke="#4f9fd1" stroke-width="0.9"/><polygon points="569.5,608.4 589.5,618.7 589.5,658.0 569.5,646.0" fill="#fbe6a6"/><polygon points="589.5,618.7 616.0,603.2 616.0,642.4 589.5,658.0" fill="#f9dc8e"/><polygon points="569.5,608.4 589.5,618.7 616.0,603.2 596.1,593.6" fill="#fffefb"/><path d="M569.5 612.2 L589.5 622.6 L616.0 607.1" fill="none" stroke="#f0aa3e" stroke-width="0.9"/><path d="M569.5 615.9 L589.5 626.6 L616.0 611.0" fill="none" stroke="#f0aa3e" stroke-width="0.9"/><path d="M569.5 619.7 L589.5 630.5 L616.0 615.0" fill="none" stroke="#f0aa3e" stroke-width="0.9"/><path d="M569.5 623.4 L589.5 634.4 L616.0 618.9" fill="none" stroke="#f0aa3e" stroke-width="0.9"/><path d="M569.5 627.2 L589.5 638.4 L616.0 622.8" fill="none" stroke="#f0aa3e" stroke-width="0.9"/><path d="M569.5 631.0 L589.5 642.3 L616.0 626.7" fill="none" stroke="#f0aa3e" stroke-width="0.9"/><path d="M569.5 634.7 L589.5 646.2 L616.0 630.6" fill="none" stroke="#f0aa3e" stroke-width="0.9"/><path d="M569.5 638.5 L589.5 650.1 L616.0 634.6" fill="none" stroke="#f0aa3e" stroke-width="0.9"/><path d="M569.5 642.2 L589.5 654.1 L616.0 638.5" fill="none" stroke="#f0aa3e" stroke-width="0.9"/><polygon points="399.4,632.3 409.3,638.0 439.0,620.5 439.0,616.0 431.0,613.0" fill="#25324d"/><polygon points="409.0,626.0 409.0,632.5 431.0,619.5 431.0,613.0" fill="#cfcfd4"/><polygon points="373.1,584.2 454.5,539.2 454.5,604.0 376.0,645.0" fill="#123f78"/><polygon points="373.1,584.2 376.0,586.0 378.0,641.0 376.0,645.0" fill="#2a65a8"/><polygon points="380.5,587.9 449.7,548.8 449.7,594.8 380.5,634.8" fill="#f9d98b"/><polygon points="380.5,627.5 449.7,587.5 449.7,594.8 380.5,634.8" fill="#f5a93f"/><polygon points="387.6,598.1 412.3,584.7 412.3,607.7 387.6,622.1" fill="#fdf3dc"/><polygon points="387.6,598.1 412.3,584.7 412.3,587.7 387.6,601.1" fill="#f5a93f"/><polygon points="389.5,604.0 399.5,598.5 399.5,613.0 389.5,618.5" fill="#cfe4f1"/><circle cx="405.5" cy="596.5" r="3.2" fill="#ecc96a"/><circle cx="405.5" cy="606" r="3.2" fill="#d9b14f"/><polygon points="417.5,579.7 437.2,569.0 437.2,586.3 417.5,597.5" fill="#fdf3dc"/><polygon points="417.5,579.7 437.2,569.0 437.2,571.8 417.5,582.5" fill="#f5a93f"/><polygon points="419.5,585.0 427.0,581.0 427.0,587.5 419.5,591.5" fill="#cfe4f1"/><polygon points="429.0,580.3 435.5,576.8 435.5,585.3 429.0,588.8" fill="#cfe4f1"/><path d="M395.3 634.8 L411 644.6 L419.2 639.7 L429 645.5" stroke="#fff" stroke-width="0.8" fill="none"/><polygon points="336.5,636.5 339.5,635.5 342.5,652.0 339.5,652.0" fill="#f3b23f"/><polygon points="342.5,640.0 345.0,637.0 346.5,640.0 345.5,652.0 343.0,652.0" fill="#2f78b7"/><polygon points="347.5,639.5 349.8,642.0 348.0,653.0 345.8,653.0" fill="#e0542a"/><polygon points="333.5,649.5 350.9,649.5 349.5,667.0 346.0,670.0 338.5,670.0 335.0,667.0" fill="#174a80"/><ellipse cx="342.2" cy="649.7" rx="8.7" ry="2.6" fill="#0f3868"/><polygon points="391.6,645.0 401.9,645.0 401.1,654.0 399.0,655.4 394.5,655.4 392.9,654.0" fill="#f7dd8e"/><ellipse cx="396.8" cy="643.6" rx="6" ry="3.3" fill="#1d4f8c"/><ellipse cx="396.8" cy="642.8" rx="4.3" ry="2" fill="#6fa9d6"/><polygon points="363.6,663.5 377.3,655.0 397.5,666.8 383.0,675.9" fill="#fff" stroke="#8dbbe0" stroke-width="0.7"/><path d="M379.3 659.1 L390.6 665.7" stroke="#f3b569" stroke-width="0.9"/><path d="M377.2 660.4 L388.5 667.0" stroke="#f3b569" stroke-width="0.9"/><path d="M375.2 661.7 L386.5 668.3" stroke="#f3b569" stroke-width="0.9"/><path d="M373.1 663.0 L384.4 669.6" stroke="#f3b569" stroke-width="0.9"/><path d="M371.1 664.2 L382.4 670.8" stroke="#f3b569" stroke-width="0.9"/><polygon points="401.1,663.5 428.0,646.5 446.0,657.0 418.0,675.5" fill="#1b5a96"/><polygon points="401.1,663.5 418.0,675.5 418.0,677.5 401.1,665.5" fill="#0f3868"/><circle cx="407.0" cy="663.0" r="1.1" fill="#f7e6b5"/><circle cx="411.3" cy="660.3" r="1.1" fill="#f7e6b5"/><circle cx="415.6" cy="657.6" r="1.1" fill="#f7e6b5"/><circle cx="419.9" cy="654.9" r="1.1" fill="#f7e6b5"/><circle cx="424.2" cy="652.2" r="1.1" fill="#f7e6b5"/><circle cx="410.8" cy="665.4" r="1.1" fill="#f7e6b5"/><circle cx="415.1" cy="662.7" r="1.1" fill="#f7e6b5"/><circle cx="419.4" cy="660.0" r="1.1" fill="#f7e6b5"/><circle cx="423.7" cy="657.3" r="1.1" fill="#f7e6b5"/><circle cx="428.0" cy="654.6" r="1.1" fill="#f7e6b5"/><circle cx="414.6" cy="667.8" r="1.1" fill="#f7e6b5"/><circle cx="418.9" cy="665.1" r="1.1" fill="#f7e6b5"/><circle cx="423.2" cy="662.4" r="1.1" fill="#f7e6b5"/><circle cx="427.5" cy="659.7" r="1.1" fill="#f7e6b5"/><circle cx="431.8" cy="657.0" r="1.1" fill="#f7e6b5"/><circle cx="418.4" cy="670.2" r="1.1" fill="#f7e6b5"/><circle cx="422.7" cy="667.5" r="1.1" fill="#f7e6b5"/><circle cx="427.0" cy="664.8" r="1.1" fill="#f7e6b5"/><circle cx="431.3" cy="662.1" r="1.1" fill="#f7e6b5"/><circle cx="435.6" cy="659.4" r="1.1" fill="#f7e6b5"/><ellipse cx="488.2" cy="613.2" rx="7.6" ry="5.1" fill="#e9f1f8" stroke="#3f7fb8" stroke-width="0.6"/><ellipse cx="488.4" cy="612.4" rx="6.6" ry="4.3" fill="#f2d987"/><path d="M488.4 612.4 L482 611.5 A6.6 4.3 0 0 1 489.5 608.1 Z" fill="#4f94cf"/><polygon points="501.3,653.7 513.7,637.2 521.9,638.1 507.9,657.0" fill="#35211c"/><polygon points="514.5,629.0 524.3,633.1 521.9,638.1 513.7,637.2" fill="#f8e4bf"/><polygon points="522.7,601.9 539.1,600.3 529.3,630.7 511.2,633.1" fill="#f39a32"/><polygon points="524.0,604.5 536.6,603.2 527.8,628.4 514.0,630.3" fill="#dfeef7"/><polygon points="524.5,603.0 533.5,602.0 532.3,605.8 523.3,606.8" fill="#1b2e4f"/><path d="M522.5 610.0 L532.5 608.3" stroke="#22385c" stroke-width="0.9"/><path d="M521.2 613.2 L531.2 611.5" stroke="#22385c" stroke-width="0.9"/><path d="M519.9 616.4 L529.9 614.7" stroke="#22385c" stroke-width="0.9"/><path d="M518.6 619.6 L528.6 617.9" stroke="#22385c" stroke-width="0.9"/><path d="M517.3 622.8 L527.3 621.1" stroke="#22385c" stroke-width="0.9"/><polygon points="512.0,629.5 517.5,627.0 521.0,633.0 515.0,636.5" fill="#f8e4bf"/><polygon points="447.9,630.3 475.0,625.4 489.8,630.7 499.7,652.0 507.0,660.0 517.0,697.0 445.5,697.0 442.2,675.0 429.0,689.8 389.6,691.5 387.9,686.5 417.5,675.0 425.7,658.6 430.7,640.5" fill="#35211c"/><polygon points="372.3,686.5 378.1,682.4 387.1,685.3 388.5,691.5 376.4,689.8" fill="#f8e4bf"/><polygon points="445.5,628.2 473.4,623.3 475.5,625.6 447.9,631.0" fill="#fff"/><polygon points="452.0,590.4 448.7,597.8 440.5,610.9 445.5,614.2 444.6,618.3 449.6,624.9 452.0,628.0 466.8,624.5 466.8,609.3 461.9,598.6" fill="#f8e4bf"/><polygon points="450.0,607.0 447.0,618.0 449.6,624.9 452.0,628.0 459.0,626.2 455.0,612.0" fill="#ecd0a0"/><circle cx="465.4" cy="603.2" r="4.6" fill="#f8e4bf"/><path d="M452.5 599.2 L458.5 600.8 L458 602.6 L453.5 601.4 Z" fill="#2b2431"/><polygon points="445.5,578.4 458.6,579.7 484.1,581.9 481.6,596.2 475.0,623.5 466.5,624.5 468.0,611.0 470.0,606.0 468.5,599.0 461.9,596.5 452.0,590.4 445.8,589.3 449.6,583.8" fill="#b9431f"/><polygon points="469.3,697.0 473.4,675.0 481.6,665.2 504.6,656.1 517.8,655.3 521.0,658.6 513.7,697.0" fill="#62b5dc"/><polygon points="469.3,697.0 473.4,675.0 481.6,665.2 484.5,667.0 477.0,678.0 474.5,697.0" fill="#3f95c4"/><polygon points="626.5,644.0 626.5,702.0 716.0,702.0 690.0,684.0" fill="#cdcdcf"/><polygon points="934.0,675.0 934.0,702.0 900.0,702.0" fill="#d6d6d8"/><polygon points="626.5,644.0 757.0,567.0 934.0,675.0 901.0,696.0 712.0,696.0" fill="#c6b4ae"/><polygon points="626.5,644.0 626.5,651.5 701.0,697.0 713.5,697.0" fill="#6f5c58"/><polygon points="934.0,675.0 934.0,681.5 908.0,697.0 896.0,697.0" fill="#6f5c58"/><polygon points="693.0,684.5 733.0,668.5 737.0,700.0 703.0,700.0" fill="#e6e6ea"/><polygon points="719.5,677.4 730.5,673.2 730.5,677.4 719.5,681.6" fill="#123f78"/><path d="M703 703 L737 690" stroke="#2a5fa0" stroke-width="1.2" fill="none"/><polygon points="753.3,586.0 766.0,594.0 779.6,584.0 779.6,589.0 766.0,599.0 753.3,591.0" fill="#123f78"/><polygon points="753.3,570.0 762.3,566.6 779.6,579.7 779.6,584.0 766.0,594.0 753.3,586.0" fill="#3f97c9"/><path d="M757.4 521.7 L749.8 544" stroke="#174f8a" stroke-width="3.1" fill="none"/><path d="M749.8 543.5 L757 573.2" stroke="#0e2a52" stroke-width="3.2" stroke-linecap="round" fill="none"/><polygon points="750.4,516.4 752.5,513.5 756.7,511.5 762.6,511.8 804.0,526.3 804.6,528.8 792.9,534.2 750.8,519.4" fill="#0e2a52"/><polygon points="750.4,516.4 752.5,513.5 756.7,511.5 762.6,511.8 804.0,526.3 792.6,531.8 750.6,517.4" fill="#174f8a"/><polygon points="705.0,607.0 753.5,598.4 758.9,601.7 733.4,618.3 713.7,628.5 705.0,624.0" fill="#144a85"/><polygon points="719.0,561.8 742.4,576.6 742.4,607.0 740.2,606.2 740.2,579.0 719.0,565.2" fill="#ee6d2d"/><polygon points="719.0,561.8 728.5,556.1 752.3,570.5 742.4,576.6" fill="#fbefd0" stroke="#f5b03e" stroke-width="0.9"/><polygon points="742.4,576.6 752.3,570.5 752.3,600.2 750.0,602.6 742.4,607.0" fill="#f5a230"/><polygon points="746.1,578.7 749.8,576.6 749.8,594.3 746.1,596.4" fill="#fbe6a8" stroke="#fdf5dc" stroke-width="0.7"/><polygon points="706.3,568.8 729.3,583.6 729.3,614.8 727.0,614.0 727.0,586.0 706.3,572.2" fill="#ee6d2d"/><polygon points="706.3,568.8 714.9,563.5 739.6,577.9 729.3,583.6" fill="#fbefd0" stroke="#f5b03e" stroke-width="0.9"/><polygon points="729.3,583.6 739.6,577.9 739.6,608.0 737.3,610.6 729.3,614.8" fill="#f5a230"/><polygon points="733.0,586.9 736.7,584.9 736.7,602.5 733.0,604.6" fill="#fbe6a8" stroke="#fdf5dc" stroke-width="0.7"/><polygon points="700.1,572.5 716.6,591.0 716.6,610.7 713.7,609.9 713.7,592.7 705.0,588.5 700.1,586.0" fill="#ee6d2d"/><polygon points="700.1,572.5 702.6,570.9 726.4,585.3 716.6,591.0" fill="#fbefd0" stroke="#f5b03e" stroke-width="0.9"/><polygon points="716.6,591.0 726.4,585.3 727.0,605.8 716.6,610.7" fill="#f5a230"/><polygon points="720.3,594.3 724.0,592.2 724.0,607.4 720.3,609.1" fill="#fbe6a8" stroke="#fdf5dc" stroke-width="0.7"/><polygon points="705.0,588.5 713.7,592.7 713.7,628.5 705.0,624.0" fill="#144a85"/><polygon points="658.1,574.0 683.8,589.4 683.8,645.4 658.1,630.0" fill="#bddcec"/><polygon points="683.8,589.4 704.8,575.4 704.8,633.9 683.8,645.4" fill="#a9d0e6"/><polygon points="658.1,574.0 683.8,589.4 704.8,575.4 681.0,560.9" fill="#e9f4fa"/><path d="M658.1 578.0 L683.8 593.4 L704.8 579.6" fill="none" stroke="#4f9fd1" stroke-width="0.9"/><path d="M658.1 582.0 L683.8 597.4 L704.8 583.8" fill="none" stroke="#4f9fd1" stroke-width="0.9"/><path d="M658.1 586.0 L683.8 601.4 L704.8 587.9" fill="none" stroke="#4f9fd1" stroke-width="0.9"/><path d="M658.1 590.0 L683.8 605.4 L704.8 592.1" fill="none" stroke="#4f9fd1" stroke-width="0.9"/><path d="M658.1 594.0 L683.8 609.4 L704.8 596.3" fill="none" stroke="#4f9fd1" stroke-width="0.9"/><path d="M658.1 598.0 L683.8 613.4 L704.8 600.5" fill="none" stroke="#4f9fd1" stroke-width="0.9"/><path d="M658.1 602.0 L683.8 617.4 L704.8 604.6" fill="none" stroke="#4f9fd1" stroke-width="0.9"/><path d="M658.1 606.0 L683.8 621.4 L704.8 608.8" fill="none" stroke="#4f9fd1" stroke-width="0.9"/><path d="M658.1 610.0 L683.8 625.4 L704.8 613.0" fill="none" stroke="#4f9fd1" stroke-width="0.9"/><path d="M658.1 614.0 L683.8 629.4 L704.8 617.2" fill="none" stroke="#4f9fd1" stroke-width="0.9"/><path d="M658.1 618.0 L683.8 633.4 L704.8 621.4" fill="none" stroke="#4f9fd1" stroke-width="0.9"/><path d="M658.1 622.0 L683.8 637.4 L704.8 625.5" fill="none" stroke="#4f9fd1" stroke-width="0.9"/><path d="M658.1 626.0 L683.8 641.4 L704.8 629.7" fill="none" stroke="#4f9fd1" stroke-width="0.9"/><polygon points="634.9,607.6 660.1,622.9 660.1,657.9 634.9,645.3" fill="#fbe6a6"/><polygon points="660.1,622.9 681.0,609.0 681.0,644.0 660.1,657.9" fill="#f9dc8e"/><polygon points="634.9,607.6 660.1,622.9 681.0,609.0 657.3,593.6" fill="#fffdf6"/><path d="M634.9 611.4 L660.1 626.4 L681.0 612.5" fill="none" stroke="#f0aa3e" stroke-width="0.9"/><path d="M634.9 615.1 L660.1 629.9 L681.0 616.0" fill="none" stroke="#f0aa3e" stroke-width="0.9"/><path d="M634.9 618.9 L660.1 633.4 L681.0 619.5" fill="none" stroke="#f0aa3e" stroke-width="0.9"/><path d="M634.9 622.7 L660.1 636.9 L681.0 623.0" fill="none" stroke="#f0aa3e" stroke-width="0.9"/><path d="M634.9 626.5 L660.1 640.4 L681.0 626.5" fill="none" stroke="#f0aa3e" stroke-width="0.9"/><path d="M634.9 630.2 L660.1 643.9 L681.0 630.0" fill="none" stroke="#f0aa3e" stroke-width="0.9"/><path d="M634.9 634.0 L660.1 647.4 L681.0 633.5" fill="none" stroke="#f0aa3e" stroke-width="0.9"/><path d="M634.9 637.8 L660.1 650.9 L681.0 637.0" fill="none" stroke="#f0aa3e" stroke-width="0.9"/><path d="M634.9 641.5 L660.1 654.4 L681.0 640.5" fill="none" stroke="#f0aa3e" stroke-width="0.9"/><polygon points="812.4,615.9 819.8,611.8 851.0,630.7 844.5,637.2" fill="#25324d"/><polygon points="821.5,612.6 842.0,623.3 842.0,629.0 821.5,618.3" fill="#cfcfd4"/><polygon points="796.0,539.0 877.3,583.0 877.3,645.5 796.0,601.0" fill="#123f78"/><polygon points="877.3,583.0 874.8,584.5 873.0,641.0 877.3,645.5" fill="#2a65a8"/><polygon points="801.2,550.3 870.8,584.7 870.8,636.4 801.2,601.0" fill="#f9d98b"/><polygon points="801.2,594.0 870.8,629.2 870.8,636.4 801.2,601.0" fill="#f5a93f"/><polygon points="820.6,577.3 840.4,587.9 840.4,607.7 820.6,597.0" fill="#fdf3dc"/><polygon points="820.6,577.3 840.4,587.9 840.4,590.7 820.6,580.1" fill="#f5a93f"/><polygon points="822.5,583.5 830.0,587.5 830.0,594.0 822.5,590.0" fill="#cfe4f1"/><polygon points="832.0,589.0 838.5,592.5 838.5,603.0 832.0,599.5" fill="#cfe4f1"/><polygon points="845.3,582.2 860.1,589.6 860.1,608.5 845.3,601.1" fill="#fdf3dc"/><polygon points="845.3,582.2 860.1,589.6 860.1,592.4 845.3,585.0" fill="#f5a93f"/><circle cx="852.7" cy="597" r="3.8" fill="#f3cd74"/><path d="M852.7 597 L852.7 593.2 A3.8 3.8 0 0 1 856.5 597 Z" fill="#7fb6dd"/><path d="M823 636 L832 641.5 L842 636 L851 641" stroke="#fff" stroke-width="0.8" fill="none"/><polygon points="913.5,636.5 916.5,637.5 911.5,653.0 908.5,653.0" fill="#f3b23f"/><polygon points="906.5,640.0 908.5,637.0 910.5,640.0 909.5,653.0 907.0,653.0" fill="#2f78b7"/><polygon points="901.5,640.5 904.0,638.5 906.5,652.0 904.0,652.0" fill="#e0542a"/><polygon points="900.4,650.9 917.1,650.9 915.7,667.0 912.2,670.0 905.2,670.0 901.8,667.0" fill="#174a80"/><ellipse cx="908.8" cy="651" rx="8.4" ry="2.5" fill="#0f3868"/><polygon points="849.1,645.0 859.6,645.0 858.4,654.3 856.5,655.6 852.0,655.6 850.2,654.3" fill="#f7dd8e"/><ellipse cx="854.3" cy="643.6" rx="6" ry="3.3" fill="#1d4f8c"/><ellipse cx="854.3" cy="642.8" rx="4.3" ry="2" fill="#6fa9d6"/><polygon points="853.5,666.8 872.4,655.3 887.2,664.4 869.1,675.9" fill="#fff" stroke="#8dbbe0" stroke-width="0.7"/><path d="M860.3 665.9 L870.9 659.5" stroke="#f3b569" stroke-width="0.9"/><path d="M862.5 667.3 L873.1 660.8" stroke="#f3b569" stroke-width="0.9"/><path d="M864.8 668.6 L875.3 662.2" stroke="#f3b569" stroke-width="0.9"/><path d="M867.0 670.0 L877.6 663.6" stroke="#f3b569" stroke-width="0.9"/><path d="M869.2 671.4 L879.8 664.9" stroke="#f3b569" stroke-width="0.9"/><polygon points="806.0,657.0 823.1,647.1 849.4,662.7 834.6,675.5" fill="#1b5a96"/><polygon points="834.6,675.5 849.4,662.7 849.4,664.7 834.6,677.5" fill="#0f3868"/><circle cx="825.5" cy="652.0" r="1.1" fill="#f7e6b5"/><circle cx="829.7" cy="654.6" r="1.1" fill="#f7e6b5"/><circle cx="833.9" cy="657.2" r="1.1" fill="#f7e6b5"/><circle cx="838.1" cy="659.8" r="1.1" fill="#f7e6b5"/><circle cx="842.3" cy="662.4" r="1.1" fill="#f7e6b5"/><circle cx="821.9" cy="654.5" r="1.1" fill="#f7e6b5"/><circle cx="826.1" cy="657.1" r="1.1" fill="#f7e6b5"/><circle cx="830.3" cy="659.7" r="1.1" fill="#f7e6b5"/><circle cx="834.5" cy="662.3" r="1.1" fill="#f7e6b5"/><circle cx="838.7" cy="664.9" r="1.1" fill="#f7e6b5"/><circle cx="818.3" cy="657.0" r="1.1" fill="#f7e6b5"/><circle cx="822.5" cy="659.6" r="1.1" fill="#f7e6b5"/><circle cx="826.7" cy="662.2" r="1.1" fill="#f7e6b5"/><circle cx="830.9" cy="664.8" r="1.1" fill="#f7e6b5"/><circle cx="835.1" cy="667.4" r="1.1" fill="#f7e6b5"/><circle cx="814.7" cy="659.5" r="1.1" fill="#f7e6b5"/><circle cx="818.9" cy="662.1" r="1.1" fill="#f7e6b5"/><circle cx="823.1" cy="664.7" r="1.1" fill="#f7e6b5"/><circle cx="827.3" cy="667.3" r="1.1" fill="#f7e6b5"/><circle cx="831.5" cy="669.9" r="1.1" fill="#f7e6b5"/><polygon points="870.8,689.8 892.0,670.4 907.4,678.8 886.0,697.0 880.0,697.0" fill="#144a85"/><polygon points="874.5,689.5 892.3,673.2 903.5,679.3 885.5,695.5" fill="#3f97c9"/><polygon points="888.5,674.5 893.0,670.8 899.0,674.0 894.5,677.7" fill="#0f2e57"/><path d="M879.5 685.3 L886.5 689.2" stroke="#123a6b" stroke-width="0.8"/><path d="M882.3 683.0 L889.3 686.9" stroke="#123a6b" stroke-width="0.8"/><path d="M885.1 680.7 L892.1 684.6" stroke="#123a6b" stroke-width="0.8"/><path d="M887.9 678.4 L894.9 682.3" stroke="#123a6b" stroke-width="0.8"/><path d="M890.7 676.1 L897.7 680.0" stroke="#123a6b" stroke-width="0.8"/><ellipse cx="762.3" cy="613.4" rx="7.6" ry="5.1" fill="#e9f1f8" stroke="#3f7fb8" stroke-width="0.6"/><ellipse cx="762.1" cy="612.6" rx="6.6" ry="4.3" fill="#f2d987"/><path d="M762.1 612.6 L768.5 611.7 A6.6 4.3 0 0 0 761 608.3 Z" fill="#4f94cf"/><polygon points="749.2,653.7 730.3,638.9 736.0,636.4 759.0,648.7" fill="#0f2446"/><polygon points="709.7,611.8 726.5,606.8 736.8,632.3 721.2,640.5" fill="#fff" stroke="#d6dbe6" stroke-width="0.6"/><path d="M714.0 613.8 L724.5 610.6" stroke="#2c3f7a" stroke-width="1"/><path d="M715.2 616.9 L725.8 613.7" stroke="#2c3f7a" stroke-width="1"/><path d="M716.5 620.0 L727.0 616.8" stroke="#2c3f7a" stroke-width="1"/><path d="M717.8 623.1 L728.2 619.9" stroke="#2c3f7a" stroke-width="1"/><path d="M719.0 626.2 L729.5 623.0" stroke="#2c3f7a" stroke-width="1"/><path d="M720.2 629.3 L730.8 626.1" stroke="#2c3f7a" stroke-width="1"/><polygon points="729.4,627.4 735.2,632.3 736.0,637.2 729.4,638.6" fill="#f8e4bf"/><polygon points="776.3,625.4 803.4,630.3 819.8,638.9 826.4,657.0 834.6,678.3 862.6,688.2 860.9,692.3 821.5,689.8 808.3,675.0 805.0,697.0 740.0,697.0 752.4,652.0 760.7,630.7" fill="#0f2446"/><polygon points="864.2,687.4 874.1,683.3 879.0,686.5 877.3,691.5 866.7,691.5" fill="#f8e4bf"/><polygon points="775.5,623.3 803.4,628.2 801.8,631.0 776.3,625.8" fill="#fff"/><polygon points="797.6,590.4 803.4,597.8 810.8,610.9 805.0,614.2 805.0,618.3 800.1,624.9 797.0,628.3 785.0,626.0 785.3,614.2 788.0,598.0" fill="#f8e4bf"/><polygon points="801.0,607.0 803.5,618.0 800.1,624.9 797.0,628.3 791.0,627.0 796.0,612.0" fill="#ecd0a0"/><circle cx="783.2" cy="605.2" r="4.6" fill="#f8e4bf"/><path d="M798.5 599.2 L792.5 600.8 L793 602.6 L797.5 601.4 Z" fill="#2b2431"/><polygon points="766.4,583.0 791.9,580.5 804.2,578.9 801.8,584.7 805.0,589.6 797.6,590.4 787.0,596.0 781.0,599.5 780.5,606.0 785.3,614.2 787.0,624.5 777.1,623.3 768.9,596.2" fill="#6c574f"/><polygon points="730.3,658.6 737.7,656.1 750.8,657.0 767.2,665.2 779.6,675.0 782.9,697.0 739.3,697.0" fill="#62b5dc"/><polygon points="782.9,697.0 779.6,675.0 767.2,665.2 764.5,667.0 774.5,678.0 777.5,697.0" fill="#3f95c4"/></g><rect x="41" y="777.5" width="1131" height="696.7" rx="52" ry="52" fill="none" stroke="#000" stroke-width="4.1" stroke-dasharray="8.2 4.1"/><polygon points="45.0,694.0 1167.5,694.0 1143.6,764.0 1167.5,833.9 45.0,833.9 81.5,764.0" fill="#d62117"/><text x="102.7" y="792.8" font-size="73" font-weight="bold" fill="#fff" stroke="#fff" stroke-width="1" stroke-linejoin="round" textLength="1012" lengthAdjust="spacing">我国网民用户安全体验明显提升</text><text x="173.12" y="970" font-size="33.3" fill="#333" textLength="133.8" lengthAdjust="spacing">个人信息</text><text x="206.61" y="1009" font-size="33.3" fill="#333" textLength="66.8" lengthAdjust="spacing">泄露</text><circle cx="238.0" cy="1121.4" r="90.6" fill="none" stroke="#dddddf" stroke-width="17.4"/><path d="M238.00 1030.80 A90.60 90.60 0 0 1 317.67 1164.55" fill="none" stroke="#d62117" stroke-width="17.4"/><circle cx="206.8" cy="1187.8" r="32.7" fill="#000" fill-opacity="0.085"/><circle cx="206.8" cy="1187.8" r="25.2" fill="#000" fill-opacity="0.14"/><g fill="#272425"><circle cx="206.8" cy="1187.8" r="21.1"/><polygon points="193.2,1163.4 192.9,1175.8 202.8,1168.3" fill="#272425"/><polygon points="220.4,1163.4 220.7,1175.8 210.8,1168.3" fill="#272425"/><polygon points="205.8,1207.8 205.8,1213.0 195.3,1213.0 192.8,1211.8 198.8,1209.1" fill="#272425"/><polygon points="207.8,1207.8 207.8,1213.0 218.3,1213.0 220.8,1211.8 214.8,1209.1" fill="#272425"/></g><text x="176" y="1135" font-size="46" fill="#000" textLength="127" lengthAdjust="spacingAndGlyphs">32.9%</text><circle cx="238.0" cy="1334.6" r="90.6" fill="none" stroke="#dddddf" stroke-width="17.4"/><path d="M238.00 1244.00 A90.60 90.60 0 0 1 327.81 1346.52" fill="none" stroke="#0377c2" stroke-width="17.4"/><circle cx="206.8" cy="1402.5" r="32.7" fill="#000" fill-opacity="0.085"/><circle cx="206.8" cy="1402.5" r="25.2" fill="#000" fill-opacity="0.14"/><g fill="#272425"><circle cx="206.8" cy="1402.5" r="21.1"/><polygon points="193.2,1378.1 192.9,1390.5 202.8,1383.0" fill="#272425"/><polygon points="220.4,1378.1 220.7,1390.5 210.8,1383.0" fill="#272425"/><polygon points="205.8,1422.5 205.8,1427.7 195.3,1427.7 192.8,1426.5 198.8,1423.8" fill="#272425"/><polygon points="207.8,1422.5 207.8,1427.7 218.3,1427.7 220.8,1426.5 214.8,1423.8" fill="#272425"/></g><text x="176" y="1348.2" font-size="46" fill="#000" textLength="127" lengthAdjust="spacingAndGlyphs">27.1%</text><text x="406.61" y="970" font-size="33.3" fill="#333" textLength="66.8" lengthAdjust="spacing">网上</text><text x="406.61" y="1009" font-size="33.3" fill="#333" textLength="66.8" lengthAdjust="spacing">诈骗</text><circle cx="440.2" cy="1121.4" r="90.6" fill="none" stroke="#dddddf" stroke-width="17.4"/><path d="M440.20 1030.80 A90.60 90.60 0 0 1 497.51 1191.57" fill="none" stroke="#d62117" stroke-width="17.4"/><circle cx="416.2" cy="1187.8" r="32.7" fill="#000" fill-opacity="0.085"/><circle cx="416.2" cy="1187.8" r="25.2" fill="#000" fill-opacity="0.14"/><g fill="#272425"><circle cx="416.2" cy="1187.8" r="21.1"/><polygon points="402.6,1163.4 402.3,1175.8 412.2,1168.3" fill="#272425"/><polygon points="429.8,1163.4 430.1,1175.8 420.2,1168.3" fill="#272425"/><polygon points="415.2,1207.8 415.2,1213.0 404.7,1213.0 402.2,1211.8 408.2,1209.1" fill="#272425"/><polygon points="417.2,1207.8 417.2,1213.0 427.7,1213.0 430.2,1211.8 424.2,1209.1" fill="#272425"/></g><text x="378.2" y="1135" font-size="46" fill="#000" textLength="127" lengthAdjust="spacingAndGlyphs">39.1%</text><circle cx="440.2" cy="1334.6" r="90.6" fill="none" stroke="#dddddf" stroke-width="17.4"/><path d="M440.20 1244.00 A90.60 90.60 0 0 1 530.34 1343.69" fill="none" stroke="#0377c2" stroke-width="17.4"/><circle cx="416.2" cy="1402.5" r="32.7" fill="#000" fill-opacity="0.085"/><circle cx="416.2" cy="1402.5" r="25.2" fill="#000" fill-opacity="0.14"/><g fill="#272425"><circle cx="416.2" cy="1402.5" r="21.1"/><polygon points="402.6,1378.1 402.3,1390.5 412.2,1383.0" fill="#272425"/><polygon points="429.8,1378.1 430.1,1390.5 420.2,1383.0" fill="#272425"/><polygon points="415.2,1422.5 415.2,1427.7 404.7,1427.7 402.2,1426.5 408.2,1423.8" fill="#272425"/><polygon points="417.2,1422.5 417.2,1427.7 427.7,1427.7 430.2,1426.5 424.2,1423.8" fill="#272425"/></g><text x="378.2" y="1348.2" font-size="46" fill="#000" textLength="127" lengthAdjust="spacingAndGlyphs">26.6%</text><text x="558.37" y="970" font-size="33.3" fill="#333" textLength="167.3" lengthAdjust="spacing">设备中病毒</text><text x="591.86" y="1009" font-size="33.3" fill="#333" textLength="100.3" lengthAdjust="spacing">或木马</text><circle cx="642.4" cy="1121.4" r="90.6" fill="none" stroke="#dddddf" stroke-width="17.4"/><path d="M642.40 1030.80 A90.60 90.60 0 0 1 711.48 1180.02" fill="none" stroke="#d62117" stroke-width="17.4"/><circle cx="622.8" cy="1187.8" r="32.7" fill="#000" fill-opacity="0.085"/><circle cx="622.8" cy="1187.8" r="25.2" fill="#000" fill-opacity="0.14"/><g fill="#272425"><circle cx="622.8" cy="1187.8" r="21.1"/><polygon points="609.2,1163.4 608.9,1175.8 618.8,1168.3" fill="#272425"/><polygon points="636.4,1163.4 636.7,1175.8 626.8,1168.3" fill="#272425"/><polygon points="621.8,1207.8 621.8,1213.0 611.3,1213.0 608.8,1211.8 614.8,1209.1" fill="#272425"/><polygon points="623.8,1207.8 623.8,1213.0 634.3,1213.0 636.8,1211.8 630.8,1209.1" fill="#272425"/></g><text x="580.4" y="1135" font-size="46" fill="#000" textLength="127" lengthAdjust="spacingAndGlyphs">36.2%</text><circle cx="642.4" cy="1334.6" r="90.6" fill="none" stroke="#dddddf" stroke-width="17.4"/><path d="M642.40 1244.00 A90.60 90.60 0 0 1 731.17 1316.51" fill="none" stroke="#0377c2" stroke-width="17.4"/><circle cx="622.8" cy="1402.5" r="32.7" fill="#000" fill-opacity="0.085"/><circle cx="622.8" cy="1402.5" r="25.2" fill="#000" fill-opacity="0.14"/><g fill="#272425"><circle cx="622.8" cy="1402.5" r="21.1"/><polygon points="609.2,1378.1 608.9,1390.5 618.8,1383.0" fill="#272425"/><polygon points="636.4,1378.1 636.7,1390.5 626.8,1383.0" fill="#272425"/><polygon points="621.8,1422.5 621.8,1427.7 611.3,1427.7 608.8,1426.5 614.8,1423.8" fill="#272425"/><polygon points="623.8,1422.5 623.8,1427.7 634.3,1427.7 636.8,1426.5 630.8,1423.8" fill="#272425"/></g><text x="580.4" y="1348.2" font-size="46" fill="#000" textLength="127" lengthAdjust="spacingAndGlyphs">21.8%</text><text x="777.01" y="970" font-size="33.3" fill="#333" textLength="133.8" lengthAdjust="spacing">账号或者</text><text x="777.01" y="1009" font-size="33.3" fill="#333" textLength="133.8" lengthAdjust="spacing">密码被盗</text><circle cx="844.4" cy="1121.4" r="90.6" fill="none" stroke="#dddddf" stroke-width="17.4"/><path d="M844.40 1030.80 A90.60 90.60 0 0 1 921.50 1168.98" fill="none" stroke="#d62117" stroke-width="17.4"/><circle cx="823.0" cy="1187.8" r="32.7" fill="#000" fill-opacity="0.085"/><circle cx="823.0" cy="1187.8" r="25.2" fill="#000" fill-opacity="0.14"/><g fill="#272425"><circle cx="823.0" cy="1187.8" r="21.1"/><polygon points="809.4,1163.4 809.1,1175.8 819.0,1168.3" fill="#272425"/><polygon points="836.6,1163.4 836.9,1175.8 827.0,1168.3" fill="#272425"/><polygon points="822.0,1207.8 822.0,1213.0 811.5,1213.0 809.0,1211.8 815.0,1209.1" fill="#272425"/><polygon points="824.0,1207.8 824.0,1213.0 834.5,1213.0 837.0,1211.8 831.0,1209.1" fill="#272425"/></g><text x="782.4" y="1135" font-size="46" fill="#000" textLength="127" lengthAdjust="spacingAndGlyphs">33.8%</text><circle cx="844.4" cy="1334.6" r="90.6" fill="none" stroke="#dddddf" stroke-width="17.4"/><path d="M844.40 1244.00 A90.60 90.60 0 0 1 928.21 1300.19" fill="none" stroke="#0377c2" stroke-width="17.4"/><circle cx="823.0" cy="1402.5" r="32.7" fill="#000" fill-opacity="0.085"/><circle cx="823.0" cy="1402.5" r="25.2" fill="#000" fill-opacity="0.14"/><g fill="#272425"><circle cx="823.0" cy="1402.5" r="21.1"/><polygon points="809.4,1378.1 809.1,1390.5 819.0,1383.0" fill="#272425"/><polygon points="836.6,1378.1 836.9,1390.5 827.0,1383.0" fill="#272425"/><polygon points="822.0,1422.5 822.0,1427.7 811.5,1427.7 809.0,1426.5 815.0,1423.8" fill="#272425"/><polygon points="824.0,1422.5 824.0,1427.7 834.5,1427.7 837.0,1426.5 831.0,1423.8" fill="#272425"/></g><text x="782.4" y="1348.2" font-size="46" fill="#000" textLength="127" lengthAdjust="spacingAndGlyphs">18.8%</text><text x="1015.31" y="970" font-size="33.3" fill="#333" textLength="66.8" lengthAdjust="spacing">以上</text><text x="998.56" y="1009" font-size="33.3" fill="#333" textLength="100.3" lengthAdjust="spacing">都没有</text><circle cx="1046.7" cy="1121.4" r="90.6" fill="none" stroke="#dddddf" stroke-width="17.4"/><path d="M1046.70 1030.80 A90.60 90.60 0 0 1 1133.70 1146.68" fill="none" stroke="#d62117" stroke-width="17.4"/><circle cx="1016.3" cy="1187.8" r="32.7" fill="#000" fill-opacity="0.085"/><circle cx="1016.3" cy="1187.8" r="25.2" fill="#000" fill-opacity="0.14"/><g fill="#272425"><circle cx="1016.3" cy="1187.8" r="21.1"/><polygon points="1002.7,1163.4 1002.4,1175.8 1012.3,1168.3" fill="#272425"/><polygon points="1029.9,1163.4 1030.2,1175.8 1020.3,1168.3" fill="#272425"/><polygon points="1015.3,1207.8 1015.3,1213.0 1004.8,1213.0 1002.3,1211.8 1008.3,1209.1" fill="#272425"/><polygon points="1017.3,1207.8 1017.3,1213.0 1027.8,1213.0 1030.3,1211.8 1024.3,1209.1" fill="#272425"/></g><text x="984.7" y="1135" font-size="46" fill="#000" textLength="127" lengthAdjust="spacingAndGlyphs">29.5%</text><circle cx="1046.7" cy="1334.6" r="90.6" fill="none" stroke="#dddddf" stroke-width="17.4"/><path d="M1046.70 1244.00 A90.60 90.60 0 0 1 1061.43 1423.99" fill="none" stroke="#0377c2" stroke-width="17.4"/><circle cx="1016.3" cy="1402.5" r="32.7" fill="#000" fill-opacity="0.085"/><circle cx="1016.3" cy="1402.5" r="25.2" fill="#000" fill-opacity="0.14"/><g fill="#272425"><circle cx="1016.3" cy="1402.5" r="21.1"/><polygon points="1002.7,1378.1 1002.4,1390.5 1012.3,1383.0" fill="#272425"/><polygon points="1029.9,1378.1 1030.2,1390.5 1020.3,1383.0" fill="#272425"/><polygon points="1015.3,1422.5 1015.3,1427.7 1004.8,1427.7 1002.3,1426.5 1008.3,1423.8" fill="#272425"/><polygon points="1017.3,1422.5 1017.3,1427.7 1027.8,1427.7 1030.3,1426.5 1024.3,1423.8" fill="#272425"/></g><text x="984.7" y="1348.2" font-size="46" fill="#000" textLength="127" lengthAdjust="spacingAndGlyphs">47.4%</text><text x="72.5" y="1065" font-size="30" fill="#000" textLength="99" lengthAdjust="spacing" transform="rotate(-18 72.5 1065)">2016年</text><text x="72.5" y="1282.3" font-size="30" fill="#000" textLength="99" lengthAdjust="spacing" transform="rotate(-18 72.5 1282.3)">2017年</text><g><circle cx="171.8" cy="1506.0" r="23.4" fill="#1f64a7"/><circle cx="171.8" cy="1506.0" r="21.4" fill="#fff"/><circle cx="171.8" cy="1506.0" r="20.5" fill="none" stroke="#1f64a7" stroke-width="0.75"/><circle cx="171.8" cy="1506.0" r="18.9" fill="none" stroke="#1f64a7" stroke-width="0.75"/><circle cx="171.8" cy="1506.0" r="17.3" fill="none" stroke="#1f64a7" stroke-width="0.75"/><circle cx="171.8" cy="1506.0" r="16.2" fill="#1f64a7"/><path d="M158.5 1503 q2 -6 7 -8 q-1 4 -3 6 q1 5 -2 9 q-3 -2 -2 -7z" fill="#fff" fill-opacity="0.75"/><path d="M178 1494 q5 1 8 6 q1 5 -1 9 q-3 -2 -4 -6 q-3 -3 -3 -9z" fill="#fff" fill-opacity="0.6"/><path d="M157.5 1516.5 A17.5 17.5 0 0 0 186 1516.5 L189.8 1519.3 A22 22 0 0 1 153.8 1519.3 Z" fill="#dbe6f3"/><path d="M171.2 1484.5 h1.2 l0.8 11 h2.6 l1.6 15.8 h15.2 l-1.4 3.4 h-30.2 l1.6 -3.4 h3.2 l1.6 -15.8 h2.6 z" fill="#fff"/><rect x="168.2" y="1499.5" width="1.3" height="5.2" fill="#1f64a7"/><rect x="171.2" y="1499.5" width="1.3" height="5.2" fill="#1f64a7"/><rect x="174.2" y="1499.5" width="1.3" height="5.2" fill="#1f64a7"/><rect x="167.8" y="1507" width="1.3" height="4.2" fill="#1f64a7"/><rect x="171.2" y="1507" width="1.3" height="4.2" fill="#1f64a7"/><rect x="174.6" y="1507" width="1.3" height="4.2" fill="#1f64a7"/><path id="xh" d="M158.2 1517.8 A16.5 16.5 0 0 0 185.4 1517.8" fill="none"/></g><g transform="translate(159.92 1521.21) rotate(38.0)"><text x="0" y="1.9" font-size="5.6" font-weight="bold" fill="#1f64a7" text-anchor="middle">X</text></g><g transform="translate(164.32 1523.79) rotate(22.8)"><text x="0" y="1.9" font-size="5.6" font-weight="bold" fill="#1f64a7" text-anchor="middle">I</text></g><g transform="translate(169.25 1525.13) rotate(7.6)"><text x="0" y="1.9" font-size="5.6" font-weight="bold" fill="#1f64a7" text-anchor="middle">N</text></g><g transform="translate(174.35 1525.13) rotate(-7.6)"><text x="0" y="1.9" font-size="5.6" font-weight="bold" fill="#1f64a7" text-anchor="middle">H</text></g><g transform="translate(179.28 1523.79) rotate(-22.8)"><text x="0" y="1.9" font-size="5.6" font-weight="bold" fill="#1f64a7" text-anchor="middle">U</text></g><g transform="translate(183.68 1521.21) rotate(-38.0)"><text x="0" y="1.9" font-size="5.6" font-weight="bold" fill="#1f64a7" text-anchor="middle">A</text></g><text x="203" y="1520.3" font-size="33" fill="#333" textLength="334.5" lengthAdjust="spacing">新华社发（大巢制图）</text><text x="569.3" y="1520.3" font-size="33" fill="#333" textLength="499.3" lengthAdjust="spacing">资料来源：中国互联网络信息中心</text></svg><div class="t"><p>2017年我国网民在上网过程中遇到安全问题的比例明显下降</p><p>47.4%</p><p>数据显示</p><p>高达47.4%的网民表示在过去半年中并未遇到过任何网络安全问题</p><h1>我国网民用户安全体验明显提升</h1><p>个人信息泄露 网上诈骗 设备中病毒或木马 账号或者密码被盗 以上都没有</p><p>2016年 32.9% 39.1% 36.2% 33.8% 29.5%</p><p>2017年 27.1% 26.6% 21.8% 18.8% 47.4%</p><p>新华社发（大巢制图） 资料来源：中国互联网络信息中心</p></div></body></html>
